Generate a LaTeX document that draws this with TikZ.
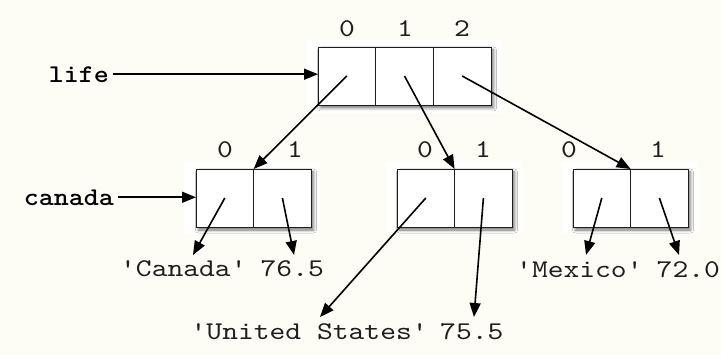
\documentclass[tikz,border=0pt]{standalone}
\usepackage{fontspec}
\newfontfamily\courf{lmmono10-regular.otf}[FakeStretch=1.18, BoldFont=lmmonolt10-bold.otf, BoldFeatures={FakeStretch=1.12}]
\usetikzlibrary{arrows.meta,shadows.blur}
\definecolor{bg}{RGB}{253,253,245}
\definecolor{ink}{RGB}{30,30,30}
\begin{document}
\begin{tikzpicture}[x=1pt,y=-1pt,
  cell/.style={draw=ink, line width=0.9pt, fill=white, minimum width=57.6pt, minimum height=58pt, inner sep=0pt, outer sep=0pt},
  lbl/.style={font=\fontsize{25.5}{26}\courf, text=ink, inner sep=0pt},
  namelbl/.style={font=\fontsize{25.5}{26}\courf\bfseries, text=black, inner sep=0pt, anchor=base east},
  ptr/.style={draw=black, line width=1.6pt, -{Triangle[length=14pt,width=11pt]}},
  halo/.style={fill=white},
  shade/.style={fill=white, blur shadow={shadow xshift=2.5pt, shadow yshift=-3pt, shadow blur radius=3pt, shadow opacity=55}}]
\fill[bg] (0,0) rectangle (721,355);
\useasboundingbox (0,0) rectangle (721,355);
% white halos behind the boxes
\fill[halo] (306,40) rectangle (502,113);
\fill[halo] (184,162) rectangle (320,234);
\fill[halo] (386,162) rectangle (522,234);
\fill[halo] (562,162) rectangle (698,234);
% shadows
\path[shade] (318,47) rectangle (491,105);
\path[shade] (196,169) rectangle (311,227);
\path[shade] (397,169) rectangle (512,227);
\path[shade] (573,169) rectangle (688,227);
% top list
\node[cell] (t0) at (346.8,76) {};
\node[cell] (t1) at (404.5,76) {};
\node[cell] (t2) at (462.2,76) {};
\node[lbl, anchor=base] (it0) at (347,37) {0};
\node[lbl, anchor=base] (it1) at (405,37) {1};
\node[lbl, anchor=base] (it2) at (462,37) {2};
% second-level lists
\node[cell] (a0) at (224.8,198) {};
\node[cell] (a1) at (282.4,198) {};
\node[cell] (b0) at (425.8,198) {};
\node[cell] (b1) at (483.4,198) {};
\node[cell] (c0) at (601.8,198) {};
\node[cell] (c1) at (659.4,198) {};
\node[lbl, anchor=base] (ia0) at (225,158) {0};
\node[lbl, anchor=base] (ia1) at (295,158) {1};
\node[lbl, anchor=base] (ib0) at (425,158) {0};
\node[lbl, anchor=base] (ib1) at (483,158) {1};
\node[lbl, anchor=base] (ic0) at (569,158) {0};
\node[lbl, anchor=base] (ic1) at (658,158) {1};
% names
\node[namelbl] (life) at (109,83) {life};
\node[namelbl] (canada) at (114,206) {canada};
\draw[ptr] (life.east) ++(4pt,1pt) coordinate (lifestart) -- (t0.west |- lifestart);
\draw[ptr] (canada.east) ++(4pt,1pt) coordinate (canstart) -- (a0.west |- canstart);
% values
\node[lbl, anchor=base west] (vcan) at (120,277) {'Canada'};
\node[lbl, anchor=base west] (ncan) at (260.5,277) {76.5};
\node[lbl, anchor=base west] (vus) at (190.5,340) {'United States'};
\node[lbl, anchor=base west] (nus) at (440,340) {75.5};
\node[lbl, anchor=base west] (vmex) at (516,278) {'Mexico'};
\node[lbl, anchor=base west] (nmex) at (656.5,278) {72.0};
% pointer ends
\coordinate (ea0) at (193,255);
\coordinate (ea1) at (294,255);
\coordinate (eb0) at (320,317);
\coordinate (eb1) at (474,317);
\coordinate (ec0) at (586,255);
\coordinate (ec1) at (679,255);
% pointers
\draw[ptr] (t0.center) -- (a0.north east);
\draw[ptr] (t1.center) -- (b0.north east);
\draw[ptr] (t2.center) -- (c0.north east);
\draw[ptr] (a0.center) -- (ea0);
\draw[ptr] (a1.center) -- (ea1);
\draw[ptr] (b0.center) -- (eb0);
\draw[ptr] (b1.center) -- (eb1);
\draw[ptr] (c0.center) -- (ec0);
\draw[ptr] (c1.center) -- (ec1);
\end{tikzpicture}
\end{document}
